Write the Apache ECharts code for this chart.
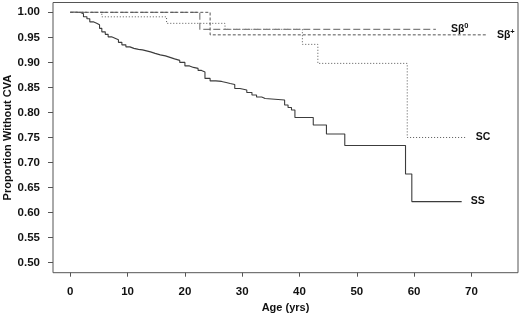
<!DOCTYPE html>
<html>
<head>
<meta charset="utf-8">
<script src="https://cdn.jsdelivr.net/npm/echarts@6/dist/echarts.min.js"></script>
<style>
html,body{margin:0;padding:0;background:#fff;}
#chart{width:520px;height:326px;}
</style>
</head>
<body>
<div id="chart"></div>
<script>
// Kaplan-Meier curves (age in years, proportion without CVA)
var ssAge = [0, 1.7, 2.3, 2.9, 3.4, 4.0, 4.6, 5.1, 5.5, 6.1, 6.6, 7.2, 7.8, 8.4, 9.0, 9.7, 10.4, 11.1, 11.9, 12.6, 13.3, 14.0, 14.8, 15.7, 16.6, 17.4, 18.2, 19.1, 20.0, 20.8, 21.5, 22.3, 22.9, 23.5, 24.4, 25.4, 26.4, 27.2, 27.9, 28.7, 29.6, 30.8, 31.7, 32.5, 33.4, 34.0, 37.4, 38.0, 38.6, 39.2, 42.4, 44.7, 47.9, 58.5, 59.6, 68.3];
var ssVal = [1.000, 0.997, 0.991, 0.987, 0.981, 0.978, 0.975, 0.968, 0.961, 0.956, 0.951, 0.948, 0.945, 0.940, 0.935, 0.931, 0.928, 0.926, 0.925, 0.923, 0.921, 0.918, 0.915, 0.913, 0.910, 0.907, 0.904, 0.900, 0.893, 0.890, 0.888, 0.884, 0.881, 0.868, 0.863, 0.862, 0.860, 0.858, 0.856, 0.848, 0.845, 0.840, 0.835, 0.831, 0.828, 0.825, 0.815, 0.810, 0.805, 0.790, 0.775, 0.757, 0.734, 0.677, 0.622, 0.622];
var scAge = [0, 5.5, 16.8, 27.0, 40.5, 43.2, 58.8, 69.2];
var scVal = [1.000, 0.991, 0.978, 0.966, 0.936, 0.898, 0.750, 0.750];
var sb0Age = [0, 22.6, 63.8];
var sb0Val = [1.000, 0.966, 0.966];
var sbpAge = [0, 24.4, 72.7];
var sbpVal = [1.000, 0.955, 0.955];
var xTicks = [0, 10, 20, 30, 40, 50, 60, 70];
var yTicks = [0.50, 0.55, 0.60, 0.65, 0.70, 0.75, 0.80, 0.85, 0.90, 0.95, 1.00];

function pairs(a, b) { return a.map(function (v, i) { return [v, b[i]]; }); }

var FONT = '"Liberation Sans", Arial, Helvetica, sans-serif';
var labelBase = { fontFamily: FONT, fontWeight: 'bold', fontSize: 10.5, color: '#111' };
var rich = {
  b: { fontFamily: FONT, fontWeight: 'bold', fontSize: 10.5, color: '#111' },
  s: { fontFamily: FONT, fontWeight: 'bold', fontSize: 7.5, color: '#111', padding: [0, 0, 6, 0] }
};

var chart = echarts.init(document.getElementById('chart'), null, { renderer: 'canvas' });
chart.setOption({
  animation: false,
  backgroundColor: '#fff',
  grid: { left: 53, right: 2, top: 2.5, bottom: 53.3, containLabel: false, outerBoundsMode: 'none',
    show: true, borderColor: '#555', borderWidth: 1, backgroundColor: 'transparent' },
  xAxis: {
    type: 'value', min: -3.02, max: 78.13,
    name: 'Age (yrs)', nameLocation: 'middle', nameGap: 30, nameMoveOverlap: false,
    nameTextStyle: { fontFamily: FONT, fontWeight: 'bold', fontSize: 11, color: '#111' },
    axisLine: { show: false, onZero: false },
    splitLine: { show: false },
    axisTick: { show: true, customValues: xTicks, length: 4, lineStyle: { color: '#555' } },
    axisLabel: { customValues: xTicks, margin: 13, fontFamily: FONT, fontWeight: 'bold', fontSize: 11.5, color: '#111' }
  },
  yAxis: {
    type: 'value', min: 0.48, max: 1.0196,
    name: 'Proportion Without CVA', nameLocation: 'middle', nameGap: 40, nameMoveOverlap: false,
    nameTextStyle: { fontFamily: FONT, fontWeight: 'bold', fontSize: 11, color: '#111' },
    axisLine: { show: false, onZero: false },
    splitLine: { show: false },
    axisTick: { show: true, customValues: yTicks, length: 5, lineStyle: { color: '#555' } },
    axisLabel: { customValues: yTicks, margin: 13, fontFamily: FONT, fontWeight: 'bold', fontSize: 11.5, color: '#111',
      formatter: function (v) { return v.toFixed(2); } }
  },
  series: [
    { name: 'SS', type: 'line', step: 'end', symbol: 'none', data: pairs(ssAge, ssVal),
      lineStyle: { color: '#3c3c3c', width: 1.1 },
      endLabel: Object.assign({ show: true, distance: 9, formatter: 'SS' }, labelBase) },
    { name: 'SC', type: 'line', step: 'end', symbol: 'none', data: pairs(scAge, scVal),
      lineStyle: { color: '#555', width: 1, type: [1, 2] },
      endLabel: Object.assign({ show: true, distance: 9, formatter: 'SC' }, labelBase) },
    { name: 'Sb0', type: 'line', step: 'end', symbol: 'none', data: pairs(sb0Age, sb0Val),
      lineStyle: { color: '#808080', width: 1.2, type: [7, 3] },
      endLabel: { show: true, distance: 15, formatter: '{b|S\u03b2}{s|0}', rich: rich } },
    { name: 'Sb+', type: 'line', step: 'end', symbol: 'none', data: pairs(sbpAge, sbpVal),
      lineStyle: { color: '#555', width: 1, type: [3, 2] },
      endLabel: { show: true, distance: 10, formatter: '{b|S\u03b2}{s|+}', rich: rich } }
  ]
});
</script>
</body>
</html>
